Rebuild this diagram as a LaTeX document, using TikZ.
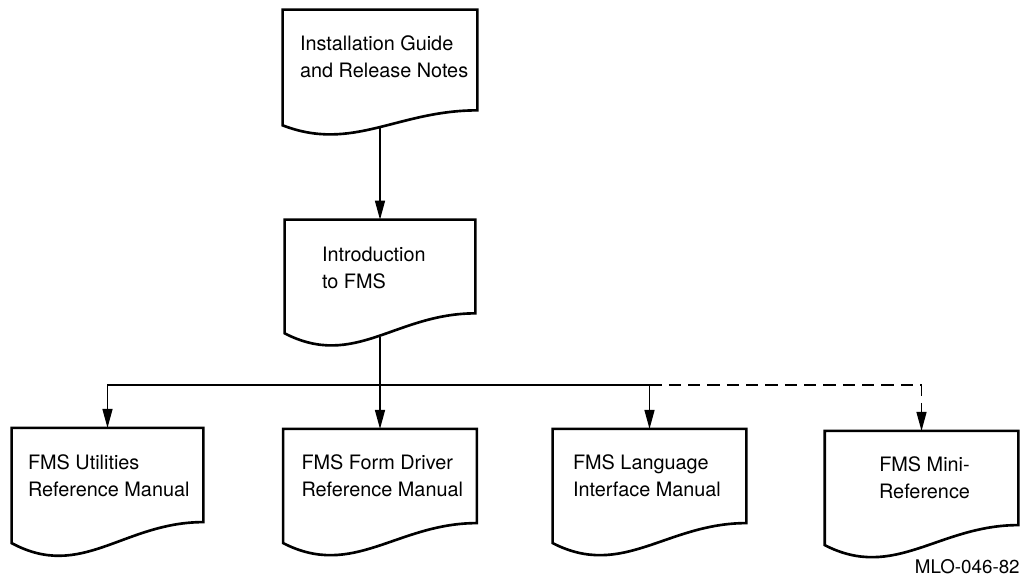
\documentclass[tikz,border=0pt]{standalone}
\usepackage{fontspec}
\setmainfont{TeX Gyre Heros}
\usetikzlibrary{arrows.meta,calc}

\tikzset{
    doc/.style={rectangle, minimum width=3.86cm, minimum height=1.87cm, inner sep=0pt},
    doctext/.style={align=left, font=\fontsize{11.3}{15.4}\selectfont, inner sep=0pt},
    docline/.style={line width=1.5pt, line join=miter},
    flow/.style={line width=0.8pt, -{Triangle[length=0.38cm, width=0.2cm]}},
    optional/.style={dash pattern=on 7pt off 4pt}
}
\newcommand{\docwave}[2]{%
    \draw[docline] (#1.south east) -- (#1.north east) -- (#1.north west) -- ($(#1.south west)+(0,#2)$)
        .. controls ($(#1.south west)+(70,2.8*#2)$) and ($(#1.south east)+(-80,0)$) .. cycle;
}

\begin{document}
\begin{tikzpicture}[x=0.02cm, y=-0.02cm]
                \useasboundingbox (0,0) rectangle (1026,583);

                \node[doc, minimum width=3.88cm, minimum height=2cm] (inst) at (380,60) {};
                \node[doc, minimum width=3.8cm, minimum height=1.86cm] (intro) at (380,266.5) {};
                \node[doc, minimum width=3.82cm] (util) at (107.5,475) {};
                \node[doc] (form) at (380,476) {};
                \node[doc] (lang) at (649.5,476) {};
                \node[doc] (mini) at (921.5,478) {};

                \docwave{inst}{15}
                \docwave{intro}{20}
                \docwave{util}{21}
                \docwave{form}{20}
                \docwave{lang}{20}
                \docwave{mini}{20}

                \node[doctext, anchor=west] (insttext) at ($(inst.west)+(17,-3)$) {Installation Guide\\and Release Notes};
                \node[doctext, anchor=west] (introtext) at ($(intro.west)+(37,1.5)$) {Introduction\\to FMS};
                \node[doctext, anchor=west] (utiltext) at ($(util.west)+(16,1)$) {FMS Utilities\\Reference Manual};
                \node[doctext, anchor=west] (formtext) at ($(form.west)+(18,0)$) {FMS Form Driver\\Reference Manual};
                \node[doctext, anchor=west] (langtext) at ($(lang.west)+(20,0)$) {FMS Language\\Interface Manual};
                \node[doctext, align=center] (minitext) at ($(mini.center)+(3,0)$) {FMS Mini-\\Reference};

                \node[doctext, anchor=base east, font=\fontsize{10.7}{12}\selectfont] (code) at (1020,573) {MLO-046-82};

                \coordinate (bus) at (0,385);
                \draw[flow] ($(inst.south)+(0,18)$) -- (intro.north);
                \draw[flow] ($(intro.south)+(0,24)$) -- (form.north);
                \draw[flow] (lang.north |- bus) -- (util.north |- bus) -- (util.north);
                \draw[flow] (lang.north |- bus) -- (lang.north);
                \draw[flow, optional] (lang.north |- bus) -- (mini.north |- bus) -- (mini.north);
            \end{tikzpicture}
\end{document}
